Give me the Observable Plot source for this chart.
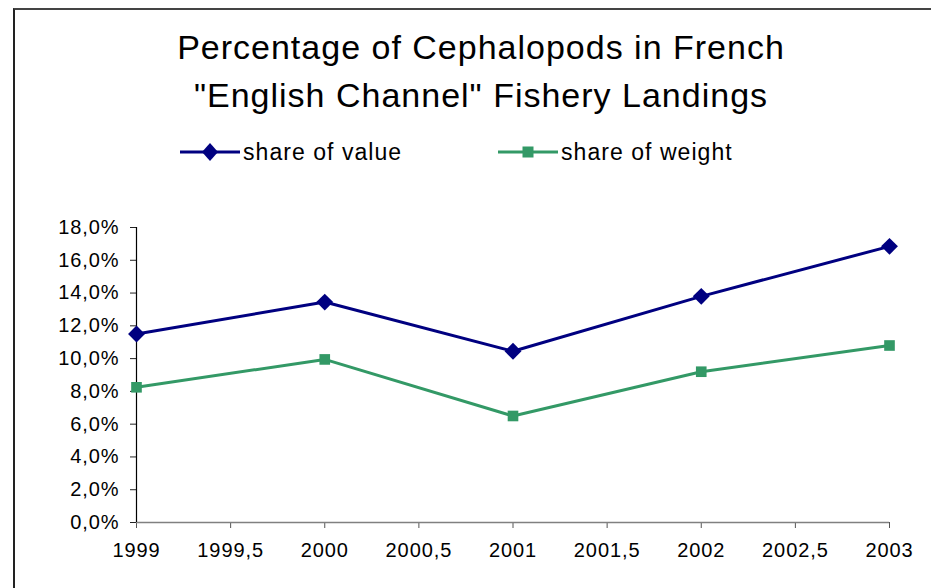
<!DOCTYPE html>
<html>
<head>
<meta charset="utf-8">
<script src="https://cdn.jsdelivr.net/npm/d3@7"></script>
<script src="https://cdn.jsdelivr.net/npm/@observablehq/plot@0.6"></script>
<style>
  html, body { margin: 0; padding: 0; background: #fff; }
  #wrap { position: relative; width: 931px; height: 588px; overflow: hidden; font-family: "Liberation Sans", Arial, sans-serif; }
  #frame { position: absolute; left: 13px; top: 8px; width: 1000px; height: 700px; border-left: 2px solid #222; border-top: 2px solid #444; box-sizing: border-box; }
  #title { position: absolute; left: 0; width: 962px; top: 23px; text-align: center; font-size: 34px; letter-spacing: 1px; line-height: 48px; color: #000; }
  #legend { position: absolute; top: 136px; left: 0; width: 931px; height: 32px; font-size: 23px; letter-spacing: 1.05px; color: #000; }
  .item { position: absolute; top: 0; display: flex; align-items: center; height: 32px; }
  .item svg { margin-right: 3px; }
  #chart { position: absolute; left: 0; top: 0; }
</style>
</head>
<body>
<div id="wrap">
  <div id="frame"></div>
  <div id="title">Percentage of Cephalopods in French<br>"English Channel" Fishery Landings</div>
  <div id="legend"></div>
  <div id="chart"></div>
</div>
<script>
const years = [1999, 2000, 2001, 2002, 2003];
const shareOfValue = [11.5, 13.45, 10.45, 13.8, 16.85];
const shareOfWeight = [8.25, 9.95, 6.5, 9.2, 10.8];
const seriesNames = ["share of value", "share of weight"];
const seriesColors = ["#000080", "#339966"];
const xTicks = [1999, 1999.5, 2000, 2000.5, 2001, 2001.5, 2002, 2002.5, 2003];
const yTicks = [0, 2, 4, 6, 8, 10, 12, 14, 16, 18];

const valueData = years.map((y, i) => ({year: y, pct: shareOfValue[i]}));
const weightData = years.map((y, i) => ({year: y, pct: shareOfWeight[i]}));

const fmtX = d => String(d).replace(".", ",");
const fmtY = d => d.toFixed(1).replace(".", ",") + "%";

const chart = Plot.plot({
  width: 931,
  height: 588,
  marginLeft: 136,
  marginRight: 42,
  marginTop: 227,
  marginBottom: 66,
  style: {fontFamily: "'Liberation Sans', Arial, sans-serif", fontSize: "20px", letterSpacing: "0.9px", background: "transparent", overflow: "visible"},
  x: {domain: [1999, 2003], label: null},
  y: {domain: [0, 18], label: null},
  marks: [
    Plot.axisX({ticks: xTicks, tickFormat: fmtX, tickSize: 6, tickPadding: 14, stroke: "#555", color: "#000", fontSize: 20, label: null}),
    Plot.axisY({ticks: yTicks, tickFormat: fmtY, tickSize: 6, tickPadding: 11, stroke: "#222", color: "#000", fontSize: 20, label: null}),
    Plot.ruleY([0], {stroke: "#808080", strokeWidth: 1.5}),
    Plot.ruleX([1999], {stroke: "#000", strokeWidth: 1.2}),
    Plot.line(weightData, {x: "year", y: "pct", stroke: seriesColors[1], strokeWidth: 3}),
    Plot.line(valueData, {x: "year", y: "pct", stroke: seriesColors[0], strokeWidth: 3}),
    Plot.dot(weightData, {x: "year", y: "pct", symbol: "square", r: 6, fill: seriesColors[1], stroke: "none"}),
    Plot.dot(valueData, {x: "year", y: "pct", symbol: "diamond2", r: 7.6, fill: seriesColors[0], stroke: "none"})
  ]
});
document.getElementById("chart").appendChild(chart);

// Legend
const legend = document.getElementById("legend");
const legendPos = [180, 498];
seriesNames.forEach((name, i) => {
  const item = document.createElement("div");
  item.className = "item";
  item.style.left = legendPos[i] + "px";
  const marker = i === 0
    ? `<path d="M30,7 L38,16 L30,25 L22,16 Z" fill="${seriesColors[i]}"/>`
    : `<rect x="24.5" y="10.5" width="11" height="11" fill="${seriesColors[i]}"/>`;
  item.innerHTML = `<svg width="60" height="32"><line x1="0" y1="16" x2="60" y2="16" stroke="${seriesColors[i]}" stroke-width="3"/>${marker}</svg><span>${name}</span>`;
  legend.appendChild(item);
});
</script>
</body>
</html>
